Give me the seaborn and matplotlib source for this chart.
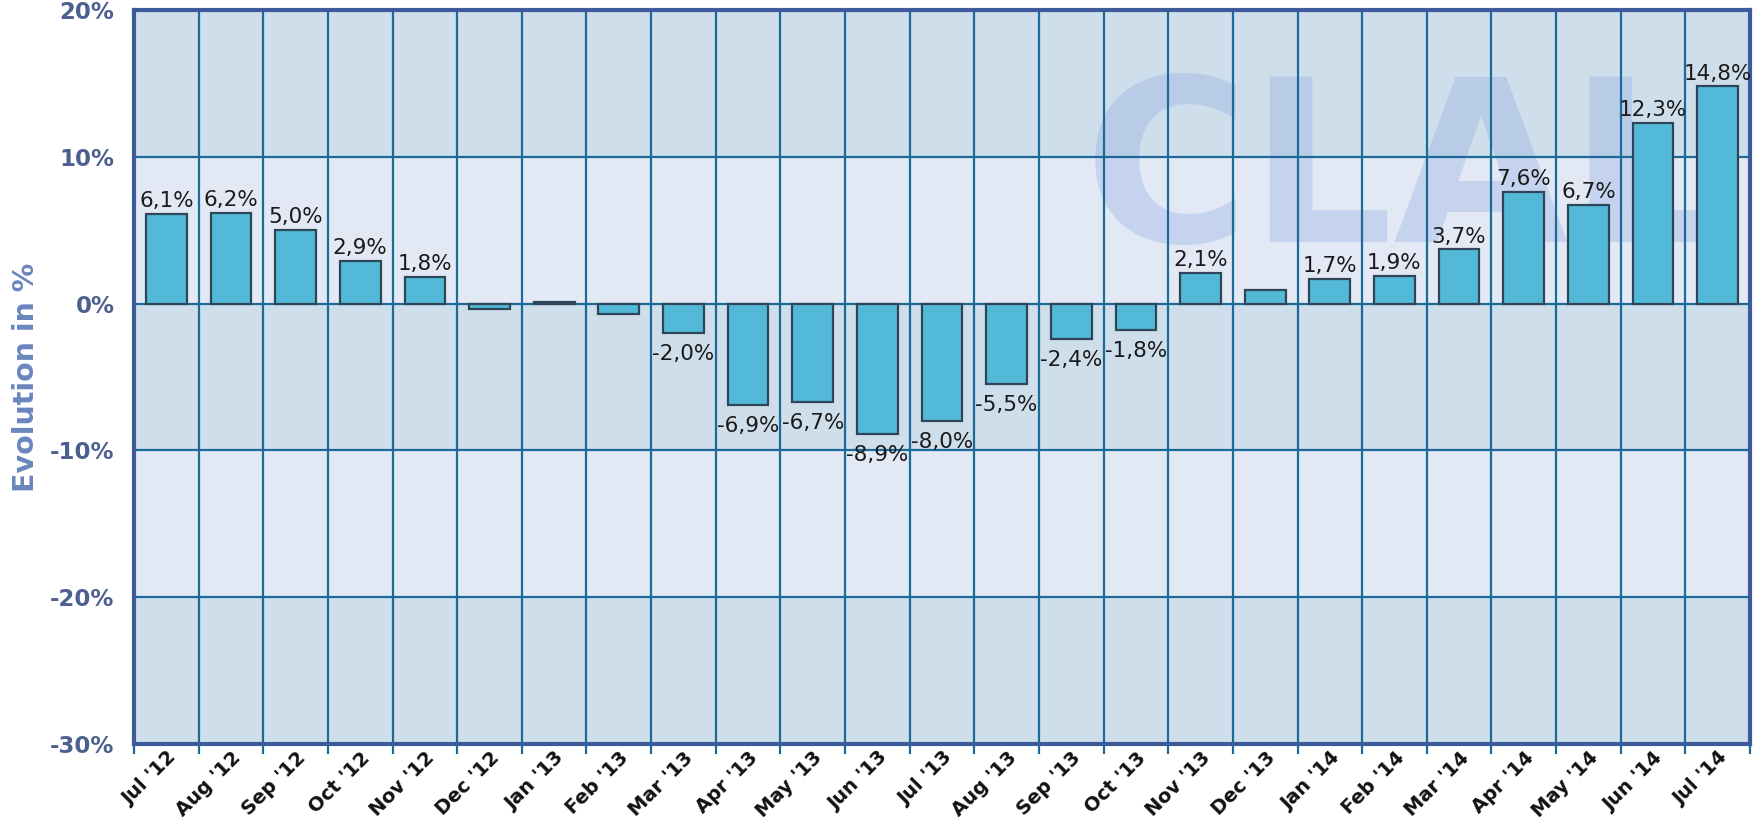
import pandas as pd
import numpy as np
import matplotlib
matplotlib.use('Agg')
import matplotlib.pyplot as plt
import seaborn as sns
from matplotlib.ticker import FixedLocator

# Data (monthly evolution, %)
months = ["Jul '12", "Aug '12", "Sep '12", "Oct '12", "Nov '12", "Dec '12",
          "Jan '13", "Feb '13", "Mar '13", "Apr '13", "May '13", "Jun '13",
          "Jul '13", "Aug '13", "Sep '13", "Oct '13", "Nov '13", "Dec '13",
          "Jan '14", "Feb '14", "Mar '14", "Apr '14", "May '14", "Jun '14", "Jul '14"]
evolution = [6.1, 6.2, 5.0, 2.9, 1.8, -0.4, 0.1, -0.7, -2.0, -6.9, -6.7, -8.9,
             -8.0, -5.5, -2.4, -1.8, 2.1, 0.9, 1.7, 1.9, 3.7, 7.6, 6.7, 12.3, 14.8]
y_ticks = [-30, -20, -10, 0, 10, 20]

df = pd.DataFrame({'month': months, 'evolution': evolution})

sns.set_theme(style="white")
plt.rcParams['font.family'] = ['DejaVu Sans']

fig = plt.figure(figsize=(17.61, 8.23), dpi=100)
ax = fig.add_axes([134 / 1761, 1 - 744 / 823, (1750 - 134) / 1761, (744 - 10) / 823])

# Alternating background bands (darkest at the bottom)
band_dark = '#cfdeeb'
band_light = '#e2e9f4'
for i, (lo, hi) in enumerate(zip(y_ticks[:-1], y_ticks[1:])):
    ax.axhspan(lo, hi, color=band_dark if i % 2 == 0 else band_light, zorder=0, lw=0)

# Watermark logo
ax.text(14.2, 4.2, 'CLAL', fontsize=163, fontweight='bold',
        color='#8aa6e2', alpha=0.32, ha='left', va='baseline', zorder=0.5, clip_on=True)

sns.barplot(data=df, x='month', y='evolution', color='#52b9d8', saturation=1,
            width=0.63, edgecolor='#2e4658', linewidth=1.6, ax=ax, zorder=3)

ax.set_xlim(-0.5, len(months) - 0.5)
ax.set_ylim(-30, 20)

# Grid lines at category boundaries and on y ticks
grid_col = '#1c6a98'
ax.xaxis.set_minor_locator(FixedLocator(np.arange(-0.5, len(months), 1)))
ax.grid(which='minor', axis='x', color=grid_col, lw=1.6, zorder=1)
ax.set_yticks(y_ticks)
ax.grid(which='major', axis='y', color=grid_col, lw=1.6, zorder=1)
ax.set_axisbelow(True)

ax.tick_params(axis='x', which='major', length=0, pad=3)
ax.tick_params(axis='x', which='minor', length=7, width=1.6, color=grid_col, bottom=True)
ax.tick_params(axis='y', length=0, pad=14)
ax.set_yticklabels([f'{t}%' for t in y_ticks], fontsize=16.5, fontweight='bold', color='#4c5f8e')
ax.set_xticklabels(months, rotation=45, ha='right', rotation_mode='anchor',
                   fontsize=14, fontweight='bold', color='#111111')

for s in ax.spines.values():
    s.set_color('#3c5a9c')
    s.set_linewidth(3)
    s.set_visible(True)

ax.set_xlabel('')
ax.set_ylabel('Evolution in %', fontsize=20.5, fontweight='bold', color='#6a86bd')
ax.yaxis.set_label_coords(-0.058, 0.5)

# Value labels (only for |v| >= 1)
for i, v in enumerate(evolution):
    if abs(v) < 1:
        continue
    txt = f'{v:.1f}%'.replace('.', ',')
    if v > 0:
        ax.annotate(txt, (i, v), xytext=(0, 2), textcoords='offset points',
                    ha='center', va='bottom', fontsize=15.5, color='#1a1a1a', zorder=4)
    else:
        ax.annotate(txt, (i, v), xytext=(0, -8), textcoords='offset points',
                    ha='center', va='top', fontsize=15.5, color='#1a1a1a', zorder=4)

plt.savefig('out.png', dpi=100)
plt.close()
